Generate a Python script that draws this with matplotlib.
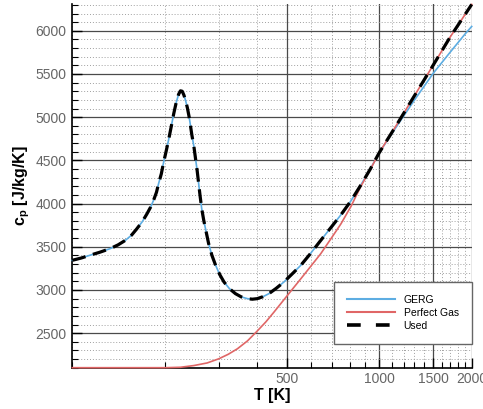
import numpy as np
import matplotlib
matplotlib.use('Agg')
import matplotlib.pyplot as plt
from matplotlib.ticker import FixedLocator, NullFormatter, FixedFormatter
from matplotlib.lines import Line2D

plt.rcParams['font.family'] = ['Liberation Sans', 'DejaVu Sans']
plt.rcParams['mathtext.fontset'] = 'custom'
plt.rcParams['mathtext.rm'] = 'Liberation Sans'
plt.rcParams['mathtext.bf'] = 'Liberation Sans:bold'

# GERG real-gas cp
t_gerg = [100, 107, 114, 123, 133, 141, 149, 156, 162, 169, 175, 180, 184, 188,
          191, 195, 198, 202, 206, 210, 214, 218, 222, 225, 228, 231, 234, 237,
          240, 242, 245, 249, 252, 255, 258, 261, 264, 268, 273, 278, 285, 293,
          302, 312, 325, 340, 355, 372, 386, 400, 418, 437, 462, 489, 520, 555,
          598, 645, 695, 750, 808, 871, 935, 1000, 1150, 1300, 1500, 1700, 1900, 2000]
cp_gerg = [3343, 3370, 3401, 3437, 3479, 3522, 3575, 3635, 3705, 3790, 3880, 3960, 4039, 4130,
           4230, 4345, 4465, 4600, 4740, 4890, 5040, 5170, 5265, 5305, 5300, 5255, 5190, 5110,
           5010, 4929, 4800, 4658, 4520, 4387, 4230, 4078, 3940, 3807, 3670, 3537, 3400, 3285,
           3180, 3092, 3015, 2957, 2920, 2899, 2893, 2899, 2922, 2957, 3020, 3092, 3185, 3285,
           3425, 3575, 3720, 3870, 4030, 4215, 4400, 4590, 4915, 5195, 5510, 5750, 5960, 6050]

# perfect gas cp
t_pg = [100, 201, 225, 249, 275, 300, 322, 345, 372, 400, 427, 454, 502, 555,
        600, 645, 695, 750, 808, 871, 935, 1000, 1150, 1300, 1500, 1700, 1900, 2000]
cp_pg = [2100, 2100, 2105, 2125, 2155, 2203, 2255, 2319, 2410, 2523, 2630, 2744, 2937, 3129,
         3280, 3421, 3590, 3765, 3965, 4200, 4395, 4590, 4935, 5245, 5605, 5925, 6185, 6305]

# used: GERG up to 1000 K, perfect gas above
T_SWITCH = 1000
t_used = [t for t in t_gerg if t <= T_SWITCH] + [t for t in t_pg if t > T_SWITCH]
cp_used = ([c for t, c in zip(t_gerg, cp_gerg) if t <= T_SWITCH]
           + [c for t, c in zip(t_pg, cp_pg) if t > T_SWITCH])

x_major = [500, 1000, 1500, 2000]
x_minor = [t for t in range(100, 2001, 100) if t not in x_major]
y_major = list(range(2500, 6001, 500))
y_minor = [c for c in range(2100, 6301, 100) if c not in y_major]

blue = '#5dade2'
red = '#e06666'

fig = plt.figure(figsize=(4.83, 4.09), dpi=100)
ax = fig.add_axes([72.3 / 483, 1 - 367.7 / 409, 399.4 / 483, 363.7 / 409])

ax.plot(t_gerg, cp_gerg, color=blue, lw=1.2, clip_on=False, zorder=3)
ax.plot(t_pg, cp_pg, color=red, lw=1.2, clip_on=False, zorder=3)
ax.plot(t_used, cp_used, color='k', lw=2.3, dashes=(4.3, 2.4), clip_on=False, zorder=4)

ax.set_xscale('log')
ax.set_xlim(100, 2000)
ax.set_ylim(2100, 6310)

ax.xaxis.set_major_locator(FixedLocator(x_major))
ax.xaxis.set_major_formatter(FixedFormatter([str(v) for v in x_major]))
ax.xaxis.set_minor_locator(FixedLocator(x_minor))
ax.xaxis.set_minor_formatter(NullFormatter())
ax.yaxis.set_major_locator(FixedLocator(y_major))
ax.yaxis.set_minor_locator(FixedLocator(y_minor))

ax.grid(which='major', color='#4a4a4a', lw=0.9, ls='-')
ax.grid(which='minor', color='#a0a0a0', lw=0.7, ls=(0, (1, 2)))
ax.set_axisbelow(True)

ax.tick_params(which='major', direction='in', length=7, width=1, color='k',
               labelcolor='#666666', labelsize=10)
ax.tick_params(which='minor', direction='in', length=4, width=0.8, color='k')
ax.tick_params(axis='x', pad=3)
ax.tick_params(axis='y', pad=4)

for s in ['top', 'right']:
    ax.spines[s].set_visible(False)
for s in ['left', 'bottom']:
    ax.spines[s].set_linewidth(1.2)

ax.set_xlabel('T [K]', fontsize=11.5, fontweight='bold')
ax.set_ylabel(r'c$_\mathbf{p}$ [J/kg/K]', fontsize=11.5, fontweight='bold')
ax.xaxis.set_label_coords(0.5, -0.055)
ax.yaxis.set_label_coords(-0.10, 0.5)

handles = [Line2D([], [], color=blue, lw=1.5),
           Line2D([], [], color=red, lw=1.5),
           Line2D([], [], color='k', lw=2.6, dashes=(3.8, 4.2))]
leg = ax.legend(handles, ['GERG', 'Perfect Gas', 'Used'], loc='lower right',
                bbox_to_anchor=(1.0, 0.065), borderaxespad=0, fontsize=7.5,
                frameon=True, fancybox=False, edgecolor='#666666', framealpha=1,
                handlelength=4.6, handletextpad=0.8, labelspacing=0.3,
                borderpad=1.25)
leg.get_frame().set_linewidth(1.0)
leg.set_zorder(5)

fig.savefig('out.png', dpi=100)
